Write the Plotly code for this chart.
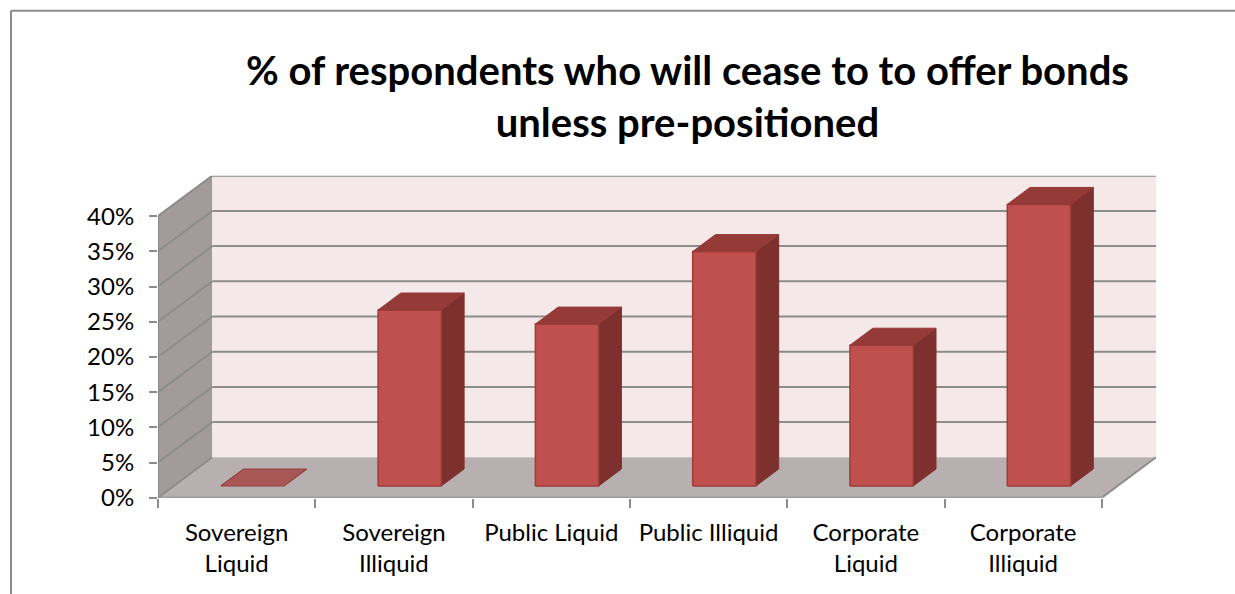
import plotly.graph_objects as go

# ---- data -------------------------------------------------------------
categories = [
    "Sovereign<br>Liquid",
    "Sovereign<br>Illiquid",
    "Public Liquid",
    "Public Illiquid",
    "Corporate<br>Liquid",
    "Corporate<br>Illiquid",
]
shares = [0.0, 0.25, 0.23, 0.333, 0.20, 0.40]
y_tick_values = [0.0, 0.05, 0.10, 0.15, 0.20, 0.25, 0.30, 0.35, 0.40]
y_tick_labels = ["0%", "5%", "10%", "15%", "20%", "25%", "30%", "35%", "40%"]
title_text = "% of respondents who will cease to to offer bonds<br>unless pre-positioned"

# ---- oblique projection of the depth axis -----------------------------
W, H = 1235, 594
N = len(categories)
YMAX = y_tick_values[-1]
DX = 0.345          # depth shift in category units
DY = 0.0574         # depth shift in value units
D_FRONT, D_BACK = 0.29, 0.71   # bar placement inside the depth
BAR_W = 0.402
XR = N + DX
YTOP = YMAX + DY

# pixel placement of the plotting area
X0_PX, CAT_PX = 158, 157.3
Y0_PX, VAL_PX = 497.7, 704.0

WALL_SIDE = "#A39B9B"
WALL_BACK = "#F4E8E8"
FLOOR = "#B8B0B0"
GRID = "#8C8C8C"
FRONT = "#C0504D"
SIDE = "#7E302E"
TOP = "#943A37"
EDGE = "#9E3D3A"
FRAME = "#8A8A8A"

fig = go.Figure()


def poly(xs, ys, fill, line_color=None, line_width=0):
    fig.add_trace(go.Scatter(
        x=list(xs) + [xs[0]], y=list(ys) + [ys[0]],
        mode="lines", fill="toself", fillcolor=fill,
        line=dict(color=line_color or fill, width=line_width),
        hoverinfo="skip", showlegend=False, cliponaxis=False,
    ))


def lines(segments, color, width):
    xs, ys = [], []
    for (xa, ya), (xb, yb) in segments:
        xs += [xa, xb, None]
        ys += [ya, yb, None]
    fig.add_trace(go.Scatter(
        x=xs, y=ys, mode="lines", line=dict(color=color, width=width),
        hoverinfo="skip", showlegend=False, cliponaxis=False,
    ))


# walls and floor
poly([0, 0, DX, DX], [0, YMAX, YTOP, DY], WALL_SIDE)
poly([DX, DX, XR, XR], [DY, YTOP, YTOP, DY], WALL_BACK)
poly([0, N, XR, DX], [0, 0, DY, DY], FLOOR)

# gridlines on the back wall and the side wall
grid = []
for v in y_tick_values[1:]:
    grid.append(((DX, v + DY), (XR, v + DY)))
    grid.append(((0, v), (DX, v + DY)))
lines(grid, GRID, 2)

# outline of the box
lines([((0, 0), (0, YMAX)), ((0, 0), (N, 0)), ((N, 0), (XR, DY)),
       ((0, 0), (DX, DY))], GRID, 2)

# 3-D columns
ddx = (D_BACK - D_FRONT) * DX
ddy = (D_BACK - D_FRONT) * DY
for i, v in enumerate(shares):
    x0 = i + 0.5 - BAR_W / 2 + D_FRONT * DX
    x1 = x0 + BAR_W
    yb = D_FRONT * DY
    yt = yb + v
    if v > 0:
        poly([x1, x1 + ddx, x1 + ddx, x1], [yb, yb + ddy, yt + ddy, yt], SIDE, SIDE, 1)
        poly([x0, x1, x1, x0], [yb, yb, yt, yt], FRONT, EDGE, 1.5)
        poly([x0, x1, x1 + ddx, x0 + ddx], [yt, yt, yt + ddy, yt + ddy], TOP, TOP, 1)
    else:
        poly([x0, x1, x1 + ddx, x0 + ddx], [yt, yt, yt + ddy, yt + ddy],
             "rgba(165,72,70,0.85)", "#93403D", 1.2)

fig.update_layout(
    width=W, height=H,
    margin=dict(l=0, r=0, t=0, b=0, autoexpand=False),
    paper_bgcolor="white", plot_bgcolor="rgba(0,0,0,0)",
    showlegend=False,
    font=dict(family="Lato", size=24, color="black"),
    xaxis=dict(
        range=[0, XR],
        domain=[X0_PX / W, (X0_PX + XR * CAT_PX) / W],
        tickvals=[i + 0.5 for i in range(N)], ticktext=categories,
        ticks="", showline=False, showgrid=False, zeroline=False,
        ticklabelstandoff=18, automargin=False,
        minor=dict(tickvals=list(range(N + 1)), ticks="outside", ticklen=9,
                   tickwidth=2, tickcolor=GRID, showgrid=False),
        fixedrange=True,
    ),
    yaxis=dict(
        range=[0, YTOP],
        domain=[(H - Y0_PX) / H, (H - Y0_PX + YTOP * VAL_PX) / H],
        tickvals=y_tick_values, ticktext=y_tick_labels,
        ticks="outside", ticklen=8, tickwidth=2, tickcolor=GRID,
        ticklabelstandoff=10, automargin=False,
        showline=False, showgrid=False, zeroline=False,
        fixedrange=True,
    ),
    annotations=[dict(
        text=title_text, xref="paper", yref="paper",
        x=687.5 / W, xanchor="center", y=1 - 44 / H, yanchor="top",
        showarrow=False, align="center",
        font=dict(family="Lato", size=40, color="black", weight=700),
    )],
    shapes=[
        dict(type="line", xref="paper", yref="paper",
             x0=11 / W, x1=1.0, y0=(H - 10.7) / H, y1=(H - 10.7) / H,
             line=dict(color=FRAME, width=2), layer="below"),
        dict(type="line", xref="paper", yref="paper",
             x0=11 / W, x1=11 / W, y0=0, y1=(H - 10.7) / H,
             line=dict(color=FRAME, width=2), layer="below"),
    ],
)

fig.write_html("out.html")
